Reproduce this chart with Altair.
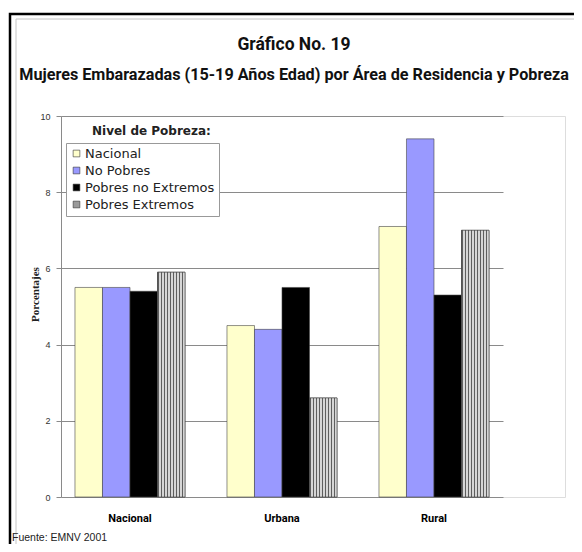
import altair as alt
import pandas as pd

areas = ["Nacional", "Urbana", "Rural"]
niveles = ["Nacional", "No Pobres", "Pobres no Extremos", "Pobres Extremos"]
nacional = [5.5, 4.5, 7.1]
no_pobres = [5.5, 4.4, 9.4]
pobres_no_ext = [5.4, 5.5, 5.3]
pobres_ext = [5.9, 2.6, 7.0]
colores = ["#FFFFCC", "#9999FF", "#000000", "#9a9a9a"]

titulo1 = "Gráfico No. 19"
titulo2 = "Mujeres Embarazadas (15-19 Años Edad) por Área de Residencia y Pobreza"
fuente = "Fuente: EMNV 2001"
leyenda_titulo = "Nivel de Pobreza:"

rows = []
for serie, vals in zip(niveles, [nacional, no_pobres, pobres_no_ext, pobres_ext]):
    for a, v in zip(areas, vals):
        rows.append({"area": a, "nivel": serie, "valor": v})
df = pd.DataFrame(rows)

W, H = 504, 381
TFONT = "Roboto"

x_enc = alt.X("area:N", sort=areas, title=None,
              scale=alt.Scale(domain=areas, range=[0, 442], paddingInner=0.276, paddingOuter=0.092),
              axis=alt.Axis(labelAngle=0, ticks=False, domain=False, labelPadding=15,
                            labelFont=TFONT, labelFontWeight="bold", labelFontSize=11,
                            labelColor="#000000"))
xo_enc = alt.XOffset("nivel:N", sort=niveles,
                     scale=alt.Scale(domain=niveles, paddingInner=0, paddingOuter=0))
y_enc = alt.Y("valor:Q", title="Porcentajes",
              scale=alt.Scale(domain=[0, 10], nice=False),
              axis=alt.Axis(values=[0, 2, 4, 6, 8, 10], grid=True, gridColor="#8a8a8a",
                            gridWidth=1, domainColor="#8a8a8a", tickColor="#8a8a8a",
                            tickSize=5, labelFontSize=9, labelColor="#333333",
                            labelPadding=6, titleFont="Liberation Serif", titleFontSize=11,
                            titleFontWeight="bold", titleColor="#222222", titleAngle=-90,
                            titleX=-26, titleY=178, titleAlign="center", titleBaseline="middle"))

bars = alt.Chart(df).mark_bar(stroke="#444444", strokeWidth=0.6).encode(
    x=x_enc, xOffset=xo_enc, y=y_enc,
    color=alt.Color("nivel:N", sort=niveles,
                    scale=alt.Scale(domain=niveles, range=colores),
                    legend=alt.Legend(orient="none", legendX=5, legendY=27, title=None,
                                      strokeColor="#999999", padding=4, fillColor="#ffffff",
                                      labelFont="DejaVu Sans", labelFontSize=13,
                                      labelColor="#222222", symbolType="square",
                                      symbolSize=45, symbolStrokeColor="#333333",
                                      symbolStrokeWidth=0.6, rowPadding=3, labelOffset=2)),
)

# fine stripes to suggest the hatched texture of the "Pobres Extremos" bars
n_stripes = 9
stops = []
for i in range(n_stripes):
    a = i / n_stripes
    m = (i + 0.5) / n_stripes
    b = (i + 1) / n_stripes
    stops += [{"offset": a, "color": "#5e5e5e"}, {"offset": m, "color": "#5e5e5e"},
              {"offset": m, "color": "#d6d6d6"}, {"offset": b, "color": "#d6d6d6"}]
hatch = {"gradient": "linear", "x1": 0, "y1": 0, "x2": 1, "y2": 0, "stops": stops}

bars_hatch = alt.Chart(df).transform_filter(
    alt.datum.nivel == "Pobres Extremos"
).mark_bar(fill=hatch, stroke="#444444", strokeWidth=0.6).encode(
    x=x_enc, xOffset=xo_enc, y=y_enc)

one = pd.DataFrame({"k": [0]})

def texto(t, x, y, **kw):
    return alt.Chart(one).mark_text(**kw).encode(
        x=alt.value(x), y=alt.value(y), text=alt.value(t))

marco = alt.Chart(one).mark_rect(fill=None, stroke="#000000", strokeWidth=2.5).encode(
    x=alt.value(-51), x2=alt.value(560), y=alt.value(-102), y2=alt.value(470))
marco2 = alt.Chart(one).mark_rect(fill=None, stroke="#c4c4c4", strokeWidth=1).encode(
    x=alt.value(-45), x2=alt.value(515), y=alt.value(-97), y2=alt.value(470))

t1 = texto(titulo1, 233, -71, font=TFONT, fontSize=17.5, fontWeight="bold",
           align="center", baseline="middle", color="#111111")
t2 = texto(titulo2, 233, -41, font=TFONT, fontSize=16.2, fontWeight="bold",
           align="center", baseline="middle", color="#111111")
t3 = texto(leyenda_titulo, 31, 15, font="DejaVu Sans", fontSize=12, fontWeight="bold",
           align="left", baseline="middle", color="#222222")
t4 = texto(fuente, -49, 427, font="Liberation Sans", fontSize=10.5,
           align="left", baseline="bottom", color="#222222")

chart = alt.layer(marco2, marco, bars, bars_hatch, t1, t2, t3, t4).properties(
    width=W, height=H,
    autosize=alt.AutoSizeParams(type="none"),
    padding={"left": 53, "top": 108, "right": 9, "bottom": 47},
).configure_view(stroke="#8a8a8a", strokeWidth=1).configure(background="#ffffff")

chart.save("out.html", embed_options={"renderer": "svg", "actions": False})
